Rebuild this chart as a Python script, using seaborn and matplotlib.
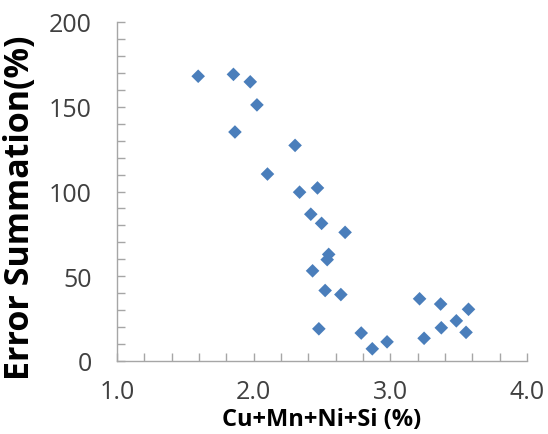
import matplotlib
matplotlib.use("Agg")
import matplotlib.pyplot as plt
import seaborn as sns
import pandas as pd
import numpy as np
from matplotlib.ticker import MultipleLocator

composition = [1.594, 1.852, 1.975, 2.024, 1.863, 2.303, 2.101, 2.336, 2.467, 2.418,
               2.497, 2.669, 2.549, 2.538, 2.431, 2.523, 2.638, 2.477, 2.787, 2.868,
               2.976, 3.214, 3.368, 3.572, 3.483, 3.373, 3.554, 3.247]
error_sum = [168.0, 169.1, 164.7, 151.1, 135.1, 127.2, 110.3, 99.6, 102.1, 86.6,
             81.2, 75.9, 62.9, 59.8, 53.2, 41.6, 39.2, 19.0, 16.5, 7.2,
             11.3, 36.7, 33.6, 30.5, 23.7, 19.6, 16.9, 13.4]
x_ticks = [1.0, 2.0, 3.0, 4.0]
x_ticklabels = ["1.0", "2.0", "3.0", "4.0"]
y_ticks = [0, 50, 100, 150, 200]

df = pd.DataFrame({"x": composition, "y": error_sum})

sns.set_theme(style="white")
plt.rcParams['font.family'] = ['Open Sans', 'DejaVu Sans']

fig = plt.figure(figsize=(5.48, 4.35), dpi=100)
ax = fig.add_axes([117/548, 1 - 362/435, (527-117)/548, (362-23)/435])

sns.scatterplot(data=df, x="x", y="y", ax=ax, marker="D", s=48,
                color="#4A7EBB", edgecolor="none", linewidth=0, clip_on=False)

ax.set_xlim(1.0, 4.0)
ax.set_ylim(0, 200)
ax.set_xticks(x_ticks)
ax.set_xticklabels(x_ticklabels)
ax.set_yticks(y_ticks)
ax.xaxis.set_minor_locator(MultipleLocator(0.2))
ax.yaxis.set_minor_locator(MultipleLocator(10))

spine_color = "#A6A6A6"
for side in ["top", "right"]:
    ax.spines[side].set_visible(False)
for side in ["left", "bottom"]:
    ax.spines[side].set_color(spine_color)
    ax.spines[side].set_linewidth(1.0)

ax.tick_params(axis="both", which="both", bottom=True, left=True, top=False, right=False)
ax.tick_params(axis="both", which="major", direction="in", length=5.5, width=1,
               color=spine_color, labelsize=18, labelcolor="#404040")
ax.tick_params(axis="both", which="minor", direction="in", length=5.5, width=1,
               color=spine_color)
ax.tick_params(axis="x", which="major", pad=13)
ax.tick_params(axis="y", which="major", pad=18)

ax.set_xlabel("Cu+Mn+Ni+Si (%)", fontsize=17, fontweight="bold", color="black")
ax.set_ylabel("Error Summation(%)", fontsize=24.5, fontweight="bold", color="black")
ax.xaxis.set_label_coords(0.5, -0.135)
ax.yaxis.set_label_coords(-0.195, 0.455)

fig.savefig("out.png", dpi=100, facecolor="white")
